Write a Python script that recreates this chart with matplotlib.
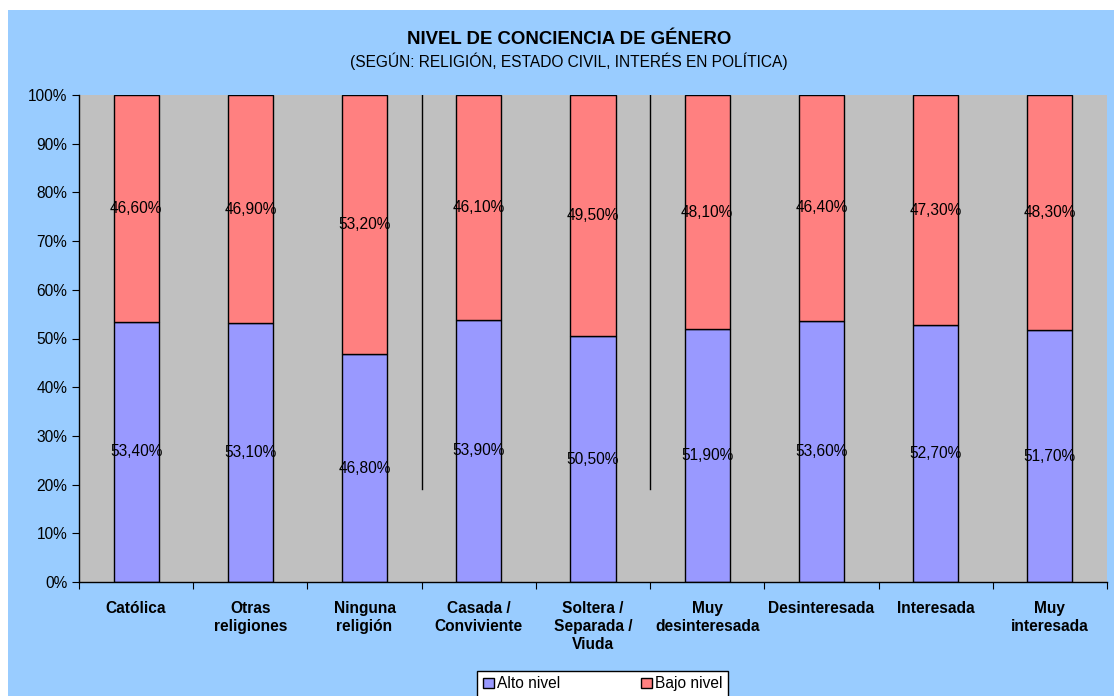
import matplotlib
matplotlib.use("Agg")
import matplotlib.pyplot as plt
from matplotlib.patches import Rectangle
import numpy as np

plt.rcParams['font.family'] = ['Liberation Sans', 'DejaVu Sans']

categories = ["Católica", "Otras\nreligiones", "Ninguna\nreligión", "Casada /\nConviviente",
              "Soltera /\nSeparada /\nViuda", "Muy\ndesinteresada", "Desinteresada",
              "Interesada", "Muy\ninteresada"]
alto = [53.4, 53.1, 46.8, 53.9, 50.5, 51.9, 53.6, 52.7, 51.7]
bajo = [46.6, 46.9, 53.2, 46.1, 49.5, 48.1, 46.4, 47.3, 48.3]
yticks = [0, 10, 20, 30, 40, 50, 60, 70, 80, 90, 100]
separators = [2.5, 4.5]

def fmt(v):
    return f"{v:.2f}".replace('.', ',') + "%"

FS = 11.2

fig = plt.figure(figsize=(11.14, 6.96), dpi=100)
fig.patch.set_facecolor('white')
fig.patches.append(Rectangle((8/1114, 0), 1, (696-10)/696, transform=fig.transFigure,
                             facecolor='#99CCFF', edgecolor='none', zorder=-10))

ax = fig.add_axes([79/1114, (696-582)/696, (1107-79)/1114, (582-95)/696])
ax.set_facecolor('#C0C0C0')
x = np.arange(len(categories))
w = 0.395
b1 = ax.bar(x, alto, w, color='#9999FF', edgecolor='black', linewidth=1, label='Alto nivel', zorder=2)
b2 = ax.bar(x, bajo, w, bottom=alto, color='#FF8080', edgecolor='black', linewidth=1, label='Bajo nivel', zorder=2)

for i in range(len(categories)):
    ax.text(x[i], alto[i]/2, fmt(alto[i]), ha='center', va='center', fontsize=FS, zorder=3)
    ax.text(x[i], alto[i] + bajo[i]/2, fmt(bajo[i]), ha='center', va='center', fontsize=FS, zorder=3)

for s in separators:
    ax.plot([s, s], [19, 100], color='black', linewidth=1, zorder=1)

ax.set_xlim(-0.5, len(categories) - 0.5)
ax.set_ylim(0, 100)
ax.set_yticks(yticks)
ax.set_yticklabels([f"{t}%" for t in yticks], fontsize=FS)
ax.set_xticks(np.arange(len(categories) + 1) - 0.5)
ax.set_xticklabels([])
ax.set_xticks(x, minor=True)
ax.set_xticklabels(categories, minor=True, fontsize=FS, fontweight='bold', linespacing=1.25)
ax.tick_params(axis='x', which='minor', length=0, pad=14)
ax.tick_params(axis='x', which='major', length=5, direction='out')
ax.tick_params(axis='y', length=5, direction='out')
for sp in ['top', 'right']:
    ax.spines[sp].set_visible(False)
ax.spines['left'].set_linewidth(1)
ax.spines['bottom'].set_linewidth(1)

fig.text(0.511, 1 - 39/696, "NIVEL DE CONCIENCIA DE GÉNERO", ha='center', va='center',
         fontsize=13.4, fontweight='bold')
fig.text(0.511, 1 - 61/696, "(SEGÚN: RELIGIÓN, ESTADO CIVIL, INTERÉS EN POLÍTICA)", ha='center',
         va='center', fontsize=FS)

leg = fig.legend(handles=[b1, b2], loc='upper center', bbox_to_anchor=(0.541, 25/696), ncol=2,
                 frameon=True, fancybox=False, edgecolor='black', fontsize=FS, framealpha=1,
                 handlelength=0.7, handleheight=0.7, columnspacing=5.2, handletextpad=0.2,
                 borderpad=0.35, borderaxespad=0)
leg.get_frame().set_linewidth(1)

fig.savefig("out.png", dpi=100)
